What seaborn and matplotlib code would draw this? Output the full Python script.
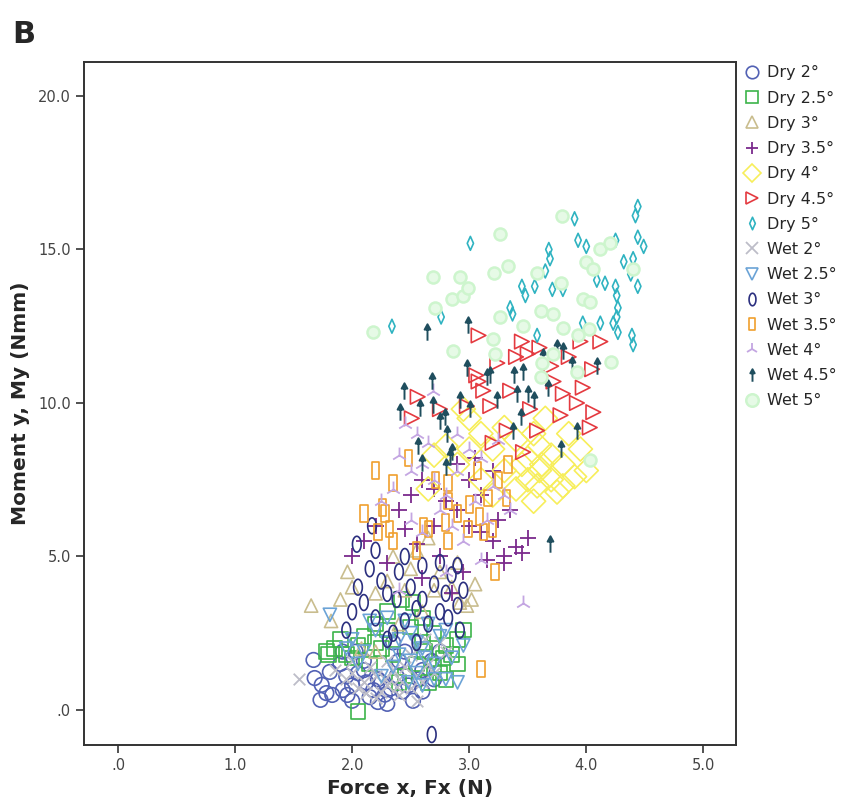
import matplotlib
matplotlib.use("Agg")
import matplotlib.pyplot as plt
from matplotlib.lines import Line2D
from matplotlib.path import Path
import numpy as np
import pandas as pd
import seaborn as sns

# (Fx, My) pairs, one list per condition
dry_2 = [(1.67, 1.63), (1.68, 1.04), (1.74, 0.82), (1.73, 0.33), (1.81, 1.24), (1.83, 0.49),
         (1.92, 0.65), (1.96, 0.49), (2.15, 0.42), (2.22, 0.26), (2.18, 0.65), (1.90, 1.5),
         (1.95, 1.1), (2.0, 0.8), (2.05, 1.2), (2.1, 1.3), (2.12, 0.9), (2.22, 1.0), (2.28, 0.5),
         (2.33, 0.7), (2.30, 0.2), (2.38, 1.1), (2.43, 0.6), (2.48, 0.8), (2.52, 0.3), (2.57, 1.0),
         (2.10, 1.6), (2.03, 1.9), (1.92, 1.9), (2.60, 1.3), (2.68, 1.6), (2.75, 1.9), (2.60, 0.6),
         (2.40, 1.6), (2.25, 0.9), (1.78, 0.55), (2.45, 1.9), (2.35, 2.2), (2.7, 1.0), (2.0, 0.3)]
dry_25 = [(2.05, -0.05), (1.85, 2.0), (1.90, 2.3), (1.78, 1.9), (2.0, 1.7), (2.1, 2.4), (2.2, 2.8),
          (2.3, 3.2), (2.42, 3.6), (2.52, 3.5), (2.6, 3.0), (2.7, 2.5), (2.8, 2.1), (2.9, 1.5),
          (2.85, 1.8), (2.75, 1.2), (2.65, 0.9), (2.55, 1.5), (2.45, 1.1), (2.35, 1.8), (2.25, 2.0),
          (2.15, 1.5), (2.05, 2.1), (1.95, 1.8), (2.3, 2.6), (2.6, 2.2), (2.7, 1.4), (2.8, 1.0),
          (2.9, 2.3), (2.5, 2.7), (2.2, 2.2), (2.78, 1.7), (1.8, 1.8), (2.95, 2.6), (2.4, 0.9),
          (2.62, 1.9)]
dry_3 = [(1.65, 3.4), (1.96, 4.5), (1.82, 2.9), (2.0, 4.0), (2.2, 3.8), (2.3, 4.2), (2.5, 4.6),
         (2.7, 3.9), (2.92, 3.5), (3.02, 3.6), (2.75, 4.5), (2.9, 4.8), (2.6, 3.2), (2.4, 2.8),
         (2.08, 2.0), (2.55, 5.2), (2.85, 4.0), (3.05, 4.1), (2.45, 3.9), (2.2, 1.9), (2.98, 3.4),
         (2.65, 5.6), (2.35, 5.0), (1.9, 3.6)]
dry_35 = [(2.0, 5.0), (2.1, 5.5), (2.2, 6.0), (2.4, 6.5), (2.5, 7.0), (2.6, 7.5), (2.7, 7.2),
          (2.8, 6.8), (2.9, 6.5), (3.0, 6.0), (3.1, 5.8), (3.2, 5.5), (3.3, 5.0), (3.4, 5.3),
          (3.5, 5.6), (3.25, 6.2), (3.35, 6.5), (3.1, 7.0), (3.0, 7.5), (2.9, 8.0), (2.95, 4.5),
          (2.75, 5.0), (2.55, 5.4), (2.3, 4.8), (2.7, 6.0), (3.15, 4.9), (3.45, 5.1), (2.85, 3.8),
          (2.6, 4.3), (3.05, 8.2), (3.2, 7.8), (2.45, 5.9), (3.3, 4.8)]
dry_4 = [(3.0, 9.5), (3.1, 9.0), (3.2, 8.5), (3.3, 9.2), (3.4, 8.8), (3.5, 8.2), (3.6, 7.8),
         (3.7, 7.5), (3.8, 8.0), (3.9, 7.6), (3.95, 8.5), (3.6, 8.6), (3.5, 7.5), (3.4, 7.2),
         (3.3, 7.8), (3.2, 7.0), (3.1, 7.5), (2.9, 8.0), (2.8, 8.6), (2.7, 8.3), (2.65, 7.2),
         (3.75, 7.1), (3.85, 9.0), (3.65, 9.5), (3.55, 9.0), (3.7, 8.3), (3.45, 8.0), (3.55, 6.8),
         (3.0, 8.5), (2.95, 9.8), (3.8, 7.3), (4.0, 7.8), (3.62, 8.0), (3.58, 7.3)]
dry_45 = [(3.08, 12.2), (3.45, 12.0), (3.5, 11.6), (3.24, 11.3), (3.08, 10.7), (3.12, 10.4),
          (3.35, 10.4), (2.56, 10.2), (2.51, 9.5), (2.75, 9.8), (3.18, 9.9), (3.52, 9.8),
          (3.78, 9.6), (3.92, 10.0), (4.06, 9.7), (4.03, 9.2), (3.95, 12.0), (4.12, 12.0),
          (3.97, 10.5), (4.05, 11.1), (3.2, 8.7), (3.46, 8.4), (2.98, 9.9), (3.8, 10.3),
          (3.72, 10.7), (3.58, 9.1), (3.32, 9.1), (3.06, 10.9), (3.4, 11.5), (3.6, 11.8),
          (3.7, 11.2), (3.85, 11.5)]
dry_5 = [(2.34, 12.5), (3.01, 15.2), (2.76, 12.8), (3.9, 16.0), (4.44, 16.4), (4.42, 16.1),
         (3.93, 15.3), (4.0, 15.1), (3.68, 15.0), (3.69, 14.7), (4.44, 15.4), (4.49, 15.1),
         (4.25, 15.3), (4.32, 14.6), (4.4, 14.7), (4.38, 14.2), (4.44, 13.8), (3.65, 14.3),
         (3.56, 13.8), (3.45, 13.8), (3.48, 13.5), (3.35, 13.1), (3.37, 12.9), (4.09, 14.0),
         (4.16, 13.9), (4.25, 13.8), (4.26, 13.5), (4.27, 13.1), (4.26, 12.8), (4.23, 12.6),
         (4.12, 12.6), (3.97, 12.6), (4.27, 12.3), (4.39, 12.2), (4.4, 11.9), (3.58, 12.2),
         (3.8, 13.7), (3.71, 13.7)]
wet_2 = [(1.55, 1.0), (2.0, 1.2), (2.1, 0.9), (2.2, 1.1), (2.3, 0.8), (2.4, 1.0), (2.5, 0.7),
         (2.35, 1.3), (2.25, 0.6), (2.45, 1.4), (2.55, 1.1), (2.6, 0.9), (2.7, 1.2), (2.15, 1.4),
         (2.05, 0.7), (1.95, 1.0), (2.3, 1.6), (2.4, 0.5), (2.5, 1.8), (2.65, 1.5), (2.2, 0.4),
         (2.75, 2.2), (2.8, 1.9), (2.55, 0.3), (1.85, 1.3), (2.0, 1.6), (2.12, 0.55), (2.28, 1.0),
         (2.38, 0.75), (2.62, 2.3)]
wet_25 = [(1.81, 3.1), (2.3, 2.2), (2.4, 1.8), (2.5, 2.5), (2.6, 2.0), (2.7, 1.5), (2.8, 1.0),
          (2.9, 0.9), (2.75, 2.4), (2.65, 2.8), (2.55, 1.2), (2.45, 2.9), (2.35, 1.4), (2.2, 2.6),
          (2.1, 1.9), (2.0, 2.3), (2.25, 1.1), (2.85, 1.7), (2.95, 2.1), (2.6, 0.8), (2.5, 1.6),
          (2.4, 2.3), (2.3, 3.0), (2.15, 2.9), (2.7, 1.0), (2.8, 2.6), (2.05, 1.5), (1.95, 2.0),
          (2.55, 2.2), (2.62, 1.7), (2.48, 0.9)]
wet_3 = [(2.15, 4.6), (2.25, 4.2), (2.3, 3.8), (2.4, 4.5), (2.5, 4.0), (2.6, 3.6), (2.7, 4.1),
         (2.8, 3.8), (2.9, 3.4), (2.95, 3.9), (2.85, 4.4), (2.75, 3.2), (2.65, 2.8), (2.55, 3.3),
         (2.45, 2.9), (2.35, 2.5), (2.2, 3.0), (2.1, 3.5), (2.0, 3.2), (1.95, 2.6), (2.3, 2.3),
         (2.6, 4.7), (2.45, 5.0), (2.05, 4.0), (2.75, 4.8), (2.9, 4.7), (2.55, 2.2), (2.2, 5.2),
         (2.38, 3.6), (2.68, -0.8), (2.04, 5.4), (2.17, 6.0), (2.82, 3.0), (2.92, 2.6)]
wet_35 = [(3.1, 1.34), (2.48, 8.2), (2.35, 7.4), (2.26, 6.6), (2.28, 6.4), (2.32, 5.9), (2.22, 5.8),
          (2.35, 5.5), (2.61, 6.0), (2.65, 5.9), (3.07, 7.8), (2.82, 7.4), (3.33, 8.0), (2.82, 6.8),
          (3.16, 6.9), (3.25, 7.5), (2.71, 7.5), (2.8, 6.1), (3.09, 6.3), (3.12, 5.8), (2.99, 5.9),
          (2.82, 5.5), (3.32, 6.9), (3.22, 4.5), (2.2, 7.8), (2.1, 6.4), (2.9, 6.4), (3.0, 6.7),
          (2.55, 5.2), (3.2, 5.9)]
wet_4 = [(2.4, 8.3), (2.5, 7.8), (2.6, 8.0), (2.7, 7.5), (2.8, 7.0), (2.9, 7.8), (3.0, 8.5),
         (3.1, 8.2), (3.2, 7.3), (3.3, 7.0), (2.55, 9.0), (2.45, 9.3), (2.65, 8.7), (2.75, 6.5),
         (2.85, 6.0), (2.95, 5.5), (3.05, 6.8), (3.15, 6.2), (2.35, 7.2), (2.25, 6.8), (2.5, 6.2),
         (2.6, 5.8), (3.25, 8.8), (3.35, 6.5), (2.9, 9.0), (3.46, 3.5), (2.69, 10.4), (2.8, 4.5),
         (2.4, 3.9), (3.1, 4.9)]
wet_45 = [(2.64, 12.3), (2.99, 12.55), (2.98, 11.15), (2.68, 10.7), (2.44, 10.4), (3.15, 10.85),
          (2.41, 9.7), (2.58, 9.85), (2.69, 9.95), (2.79, 9.55), (2.75, 9.4), (2.81, 9.0),
          (2.92, 10.1), (3.01, 9.8), (3.18, 10.9), (3.24, 10.1), (3.38, 10.9), (3.46, 11.0),
          (3.41, 10.3), (3.5, 10.3), (3.55, 10.1), (3.67, 10.5), (3.75, 11.8), (3.8, 11.7),
          (3.88, 11.25), (4.09, 11.2), (3.92, 9.1), (3.78, 8.5), (3.37, 9.1), (3.44, 9.55),
          (2.84, 8.25), (2.56, 8.6), (2.6, 8.05), (3.63, 11.5), (3.69, 5.4), (2.85, 8.4), (2.8, 7.9)]
wet_5 = [(2.18, 12.3), (2.71, 13.1), (2.85, 13.4), (2.95, 13.5), (2.99, 13.75), (2.92, 14.1),
         (2.69, 14.1), (3.26, 15.5), (3.21, 14.25), (3.33, 14.45), (3.26, 12.8), (3.2, 12.1),
         (2.86, 11.7), (3.22, 11.6), (3.79, 16.1), (3.58, 14.25), (3.78, 13.9), (4.0, 14.6),
         (4.12, 15.0), (4.2, 15.2), (4.4, 14.35), (4.06, 14.35), (3.97, 13.4), (4.03, 13.3),
         (3.61, 13.0), (3.72, 12.9), (3.8, 12.45), (3.46, 12.5), (4.02, 12.4), (3.93, 12.2),
         (3.72, 11.6), (3.62, 11.3), (4.21, 11.35), (3.92, 11.0), (3.61, 10.85), (4.03, 8.15)]

labels = ["Dry 2°", "Dry 2.5°", "Dry 3°", "Dry 3.5°", "Dry 4°", "Dry 4.5°", "Dry 5°",
          "Wet 2°", "Wet 2.5°", "Wet 3°", "Wet 3.5°", "Wet 4°", "Wet 4.5°", "Wet 5°"]
groups = [dry_2, dry_25, dry_3, dry_35, dry_4, dry_45, dry_5,
          wet_2, wet_25, wet_3, wet_35, wet_4, wet_45, wet_5]

rows = []
for lab, pts in zip(labels, groups):
    for fx, my in pts:
        rows.append({"group": lab, "Fx": fx, "My": my})
df = pd.DataFrame(rows)

# custom glyphs that SPSS uses
t = np.linspace(0, 2 * np.pi, 40)
ellipse = Path(np.column_stack([0.55 * np.cos(t), np.sin(t)]))
tall_rect = Path([(-0.45, -1), (0.45, -1), (0.45, 1), (-0.45, 1), (-0.45, -1)],
                 [Path.MOVETO, Path.LINETO, Path.LINETO, Path.LINETO, Path.CLOSEPOLY])
thin_diam = Path([(0, -1), (0.45, 0), (0, 1), (-0.45, 0), (0, -1)],
                 [Path.MOVETO, Path.LINETO, Path.LINETO, Path.LINETO, Path.CLOSEPOLY])
arrow = Path([(0, -1), (0, 0.5), (-0.35, 0.35), (0, 1), (0.35, 0.35), (-0.35, 0.35)],
             [Path.MOVETO, Path.LINETO, Path.MOVETO, Path.LINETO, Path.LINETO, Path.CLOSEPOLY])

# label: (marker, color, size, kind)
styles = {
    "Dry 2°": ("o", "#5261b4", 110, True),
    "Dry 2.5°": ("s", "#3cb44a", 110, True),
    "Dry 3°": ("^", "#c9bd8e", 90, True),
    "Dry 3.5°": ("+", "#7b2a8c", 130, False),
    "Dry 4°": ("D", "#f7ee5a", 150, True),
    "Dry 4.5°": (">", "#e43a40", 110, True),
    "Dry 5°": (thin_diam, "#2fb3c1", 100, True),
    "Wet 2°": ("x", "#bdbdc8", 70, False),
    "Wet 2.5°": ("v", "#6ba3d6", 90, True),
    "Wet 3°": (ellipse, "#2b2f7f", 130, True),
    "Wet 3.5°": (tall_rect, "#f0a02e", 140, True),
    "Wet 4°": ("2", "#c4a6e2", 130, False),
    "Wet 4.5°": (arrow, "#1f4e5e", 140, "arrow"),
    "Wet 5°": ("o", "#cdf5cd", 75, "fill"),
}

sns.set_style("white")
fig = plt.figure(figsize=(8.53, 8.08), dpi=100)
ax = fig.add_axes([0.0985, 0.078, 0.7645, 0.845])

handles = []
for lab in labels:
    marker, color, size, kind = styles[lab]
    sub = df[df["group"] == lab]
    if kind is True:
        sns.scatterplot(data=sub, x="Fx", y="My", marker=marker, s=size, ax=ax,
                        facecolors="none", edgecolors=color, linewidths=1.2)
        h = Line2D([], [], ls="none", marker=marker, markersize=9,
                   markerfacecolor="none", markeredgecolor=color, markeredgewidth=1.2)
    elif kind == "fill":
        sns.scatterplot(data=sub, x="Fx", y="My", marker=marker, s=size, ax=ax,
                        color="#e6fae6", edgecolor=color, linewidth=1.8)
        h = Line2D([], [], ls="none", marker=marker, markersize=9,
                   markerfacecolor="#e6fae6", markeredgecolor=color, markeredgewidth=1.8)
    elif kind == "arrow":
        sns.scatterplot(data=sub, x="Fx", y="My", marker=marker, s=size, ax=ax,
                        color=color, edgecolor=color, linewidth=1.4)
        h = Line2D([], [], ls="none", marker=marker, markersize=9,
                   markerfacecolor=color, markeredgecolor=color, markeredgewidth=1.4)
    else:
        sns.scatterplot(data=sub, x="Fx", y="My", marker=marker, s=size, ax=ax,
                        color=color, linewidth=1.3)
        h = Line2D([], [], ls="none", marker=marker, markersize=9,
                   color=color, markeredgewidth=1.3)
    handles.append(h)

ax.set_xlim(-0.29, 5.28)
ax.set_ylim(-1.14, 21.1)
ax.set_xticks([0, 1, 2, 3, 4, 5])
ax.set_xticklabels([".0", "1.0", "2.0", "3.0", "4.0", "5.0"])
ax.set_yticks([0, 5, 10, 15, 20])
ax.set_yticklabels([".0", "5.0", "10.0", "15.0", "20.0"])
ax.tick_params(axis="both", direction="out", length=6, width=1.2, color="#333333",
               labelsize=10.5, labelcolor="#444444", bottom=True, left=True)
for sp in ax.spines.values():
    sp.set_color("#333333")
    sp.set_linewidth(1.4)

lab_font = dict(family=["DejaVu Sans Condensed", "Liberation Sans Narrow", "DejaVu Sans"],
                weight="bold", size=14.5)
ax.set_xlabel("Force x, Fx (N)", **lab_font, labelpad=4)
ax.set_ylabel("Moment y, My (Nmm)", **lab_font, labelpad=6)

fig.legend(handles, labels, loc="upper left", bbox_to_anchor=(0.865, 0.927),
           frameon=False, fontsize=11.5, handlelength=1.0, handletextpad=0.4,
           labelspacing=0.64, borderaxespad=0)

fig.text(0.014, 0.975, "B", fontsize=22, fontweight="bold", va="top", ha="left")

fig.savefig("out.png", dpi=100)
